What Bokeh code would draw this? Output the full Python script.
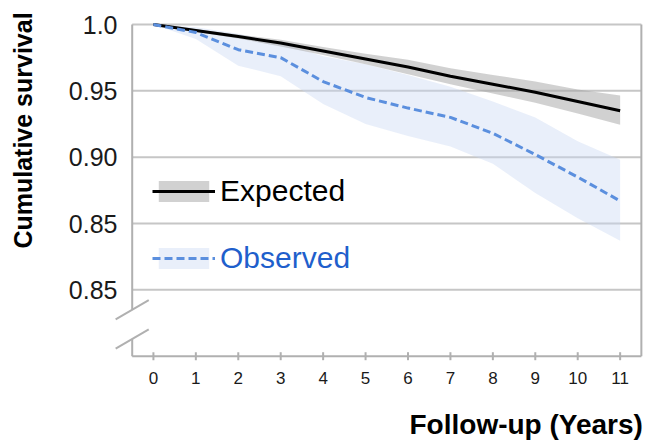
import math
from bokeh.plotting import figure
from bokeh.models import Range1d, Legend, LegendItem, ColumnDataSource
from bokeh.core.properties import value
from bokeh.embed import file_html
from bokeh.resources import INLINE

# ---- data -------------------------------------------------------------
years = [0, 1, 2, 3, 4, 5, 6, 7, 8, 9, 10, 11]
expected = [1.000, 0.9955, 0.991, 0.986, 0.980, 0.974, 0.968, 0.961, 0.955, 0.949, 0.942, 0.935]
expected_lower = [1.000, 0.9945, 0.9895, 0.9835, 0.977, 0.970, 0.9625, 0.955, 0.948, 0.941, 0.933, 0.9245]
expected_upper = [1.000, 0.9965, 0.9925, 0.9885, 0.983, 0.978, 0.9735, 0.967, 0.962, 0.957, 0.951, 0.9465]
observed = [1.000, 0.994, 0.981, 0.975, 0.957, 0.945, 0.937, 0.930, 0.918, 0.902, 0.885, 0.867]
observed_lower = [1.000, 0.989, 0.969, 0.961, 0.940, 0.925, 0.916, 0.908, 0.895, 0.873, 0.854, 0.837]
observed_upper = [1.000, 0.998, 0.993, 0.986, 0.976, 0.970, 0.962, 0.953, 0.942, 0.930, 0.912, 0.898]

y_ticks = [0.80, 0.85, 0.90, 0.95, 1.00]
y_tick_labels = ["0.85", "0.85", "0.90", "0.95", "1.0"]
x_ticks = years
x_tick_labels = [str(t) for t in x_ticks]
x_title = "Follow-up (Years)"
y_title = "Cumulative survival"

# axis extent (data units)
x_start, x_end = -0.5, 11.5
y_start, y_end = 0.75, 1.00
break_centers = [0.785, 0.763]   # where the axis-break marks cross the y axis

# ---- page geometry (pixels) -------------------------------------------
W, H = 645, 441
AX_LEFT_PX, AX_TOP_PX = 131.7, 25.0        # position of (x_start, y_end)
PX_X, PX_Y = 42.43, 1326.8                 # pixels per data unit
X_RANGE = (x_start - AX_LEFT_PX / PX_X, x_start + (W - AX_LEFT_PX) / PX_X)
Y_RANGE = (y_end - (H - AX_TOP_PX + 1) / PX_Y, y_end + (AX_TOP_PX - 1) / PX_Y)

FONT = "Liberation Sans"
GRID = "#c6c6c6"
AXIS = "#b0b0b0"
TXT = "#1a1a1a"

src = ColumnDataSource(dict(x=years, e=expected, el=expected_lower, eu=expected_upper,
                            o=observed, ol=observed_lower, ou=observed_upper))

p = figure(width=W, height=H, output_backend="svg", toolbar_location=None,
           x_range=Range1d(*X_RANGE), y_range=Range1d(*Y_RANGE),
           min_border=0)
p.outline_line_color = None
p.background_fill_color = "white"
p.border_fill_color = "white"
p.xaxis.visible = False
p.yaxis.visible = False
p.xgrid.visible = False
p.ygrid.visible = False

# grid lines (between the axis and the right border)
n = len(y_ticks)
p.segment(x0=[x_start] * n, x1=[x_end] * n, y0=y_ticks, y1=y_ticks,
          line_color=GRID, line_width=2)

# data
ob = p.varea(x="x", y1="ol", y2="ou", source=src, fill_color="#c9d8f2", fill_alpha=0.4)
eb = p.varea(x="x", y1="el", y2="eu", source=src, fill_color="#a3a3a3", fill_alpha=0.5)
eline = p.line("x", "e", source=src, line_color="black", line_width=3)
oline = p.line("x", "o", source=src, line_color="#5b8fde", line_width=3, line_dash="8 4")

# right border
p.segment(x0=[x_end], x1=[x_end], y0=[y_start], y1=[y_end], line_color=AXIS, line_width=2)

# left axis line with a break, and the two break marks
p.segment(x0=[x_start, x_start], x1=[x_start, x_start],
          y0=[y_end, break_centers[1]], y1=[break_centers[0], y_start],
          line_color=AXIS, line_width=2)
dx, dy = 0.39, 0.0073
p.segment(x0=[x_start - dx] * 2, x1=[x_start + dx] * 2,
          y0=[c - dy for c in break_centers], y1=[c + dy for c in break_centers],
          line_color=AXIS, line_width=2)

# x axis line + ticks
p.segment(x0=[x_start], x1=[x_end], y0=[y_start], y1=[y_start], line_color=AXIS, line_width=2)
tick = 4 / PX_Y
m = len(x_ticks)
p.segment(x0=x_ticks, x1=x_ticks, y0=[y_start - tick] * m, y1=[y_start + tick] * m,
          line_color=AXIS, line_width=2)

# tick labels
p.text(x=x_ticks, y=[y_start - 21.5 / PX_Y] * m, text=x_tick_labels,
       text_font=value(FONT), text_font_size="17px", text_color=TXT,
       text_align="center", text_baseline="middle")
p.text(x=[x_start - 14.7 / PX_X] * n, y=y_ticks, text=y_tick_labels,
       text_font=value(FONT), text_font_size="25px", text_color=TXT,
       text_align="right", text_baseline="middle")

# axis titles
p.text(x=[x_start - (AX_LEFT_PX - 22) / PX_X], y=[y_end - (131 - AX_TOP_PX) / PX_Y],
       text=[y_title], angle=math.pi / 2, text_font=value(FONT),
       text_font_size="25px", text_font_style="bold", text_color="black",
       text_align="center", text_baseline="middle")
p.text(x=[x_end + 1.5 / PX_X], y=[y_end - (425 - AX_TOP_PX) / PX_Y], text=[x_title],
       text_font=value(FONT), text_font_size="28px", text_font_style="bold",
       text_color="black", text_align="right", text_baseline="middle")

# ---- legends --------------------------------------------------------------
def make_legend(label, rends, loc, color):
    return Legend(items=[LegendItem(label=label, renderers=rends)], location=loc,
                  background_fill_alpha=0, border_line_color=None, padding=0,
                  margin=0, spacing=0, glyph_width=63, glyph_height=26,
                  label_standoff=5, label_text_font=FONT, label_text_font_size="30px",
                  label_text_color=color)

p.add_layout(make_legend("Expected", [eb, eline], (152, 233), "black"))
p.add_layout(make_legend("Observed", [ob, oline], (152, 166), "#1f5fcc"))

open("out.html", "w").write(file_html(p, INLINE))
